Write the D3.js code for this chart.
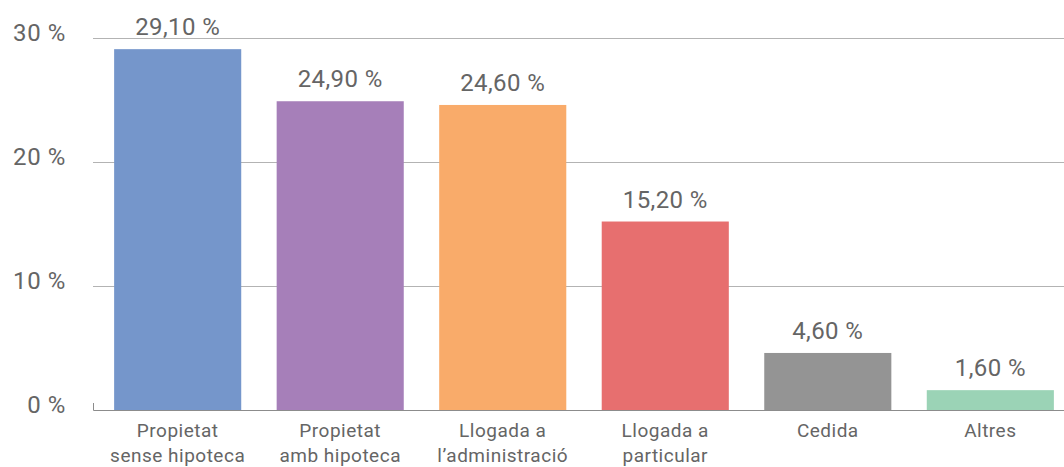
<!DOCTYPE html>
<html>
<head>
<meta charset="utf-8">
<script src="https://cdn.jsdelivr.net/npm/d3@7"></script>
<style>
  html, body { margin: 0; padding: 0; background: #fff; }
  svg { display: block; }
  text { font-family: Roboto, "Noto Sans", sans-serif; font-weight: 400; fill: #656565; }
</style>
</head>
<body>
<svg id="chart"></svg>
<script>
const categories = [
  ['Propietat', 'sense hipoteca'],
  ['Propietat', 'amb hipoteca'],
  ['Llogada a', 'l\u2019administració'],
  ['Llogada a', 'particular'],
  ['Cedida'],
  ['Altres']
]
const values = [29.1, 24.9, 24.6, 15.2, 4.6, 1.6]
const barColors = ['#7596cb', '#a67fb9', '#f9ab6a', '#e76f6f', '#949494', '#9bd3b6']
const yTicks = [0, 10, 20, 30]
const valueLabels = ['29,10 %', '24,90 %', '24,60 %', '15,20 %', '4,60 %', '1,60 %']

const width = 1064, height = 467

const svg = d3.select('#chart')
  .attr('width', width)
  .attr('height', height)

const x = d3.scaleBand()
  .domain(d3.range(values.length))
  .range([93, 1075])
  .paddingInner(0.218)
  .paddingOuter(0.13)

const y = d3.scaleLinear()
  .domain([0, 30])
  .range([410, 38])

// gridlines
svg.append('g')
  .selectAll('line')
  .data(yTicks.filter(d => d > 0))
  .enter().append('line')
  .attr('x1', 93)
  .attr('x2', width)
  .attr('y1', d => y(d) + 0.5)
  .attr('y2', d => y(d) + 0.5)
  .attr('stroke', '#b3b3b3')
  .attr('stroke-width', 1)

// y labels
svg.append('g')
  .selectAll('text')
  .data(yTicks)
  .enter().append('text')
  .attr('x', 66)
  .attr('y', d => y(d) - 5)
  .attr('dy', '0.35em')
  .attr('text-anchor', 'end')
  .style('font-size', '24px')
  .style('letter-spacing', '0.6px')
  .text(d => d + ' %')

// bars
svg.append('g')
  .selectAll('rect')
  .data(values)
  .enter().append('rect')
  .attr('x', (d, i) => x(i))
  .attr('width', x.bandwidth())
  .attr('y', d => y(d))
  .attr('height', d => y(0) - y(d))
  .attr('fill', (d, i) => barColors[i])

// baseline axis
svg.append('path')
  .attr('d', `M93.5,403V410.5H${width}`)
  .attr('fill', 'none')
  .attr('stroke', '#8c8c8c')
  .attr('stroke-width', 1)

// value labels
svg.append('g')
  .selectAll('text')
  .data(values)
  .enter().append('text')
  .attr('x', (d, i) => x(i) + x.bandwidth() / 2)
  .attr('y', d => y(d) - 14)
  .attr('text-anchor', 'middle')
  .style('font-size', '24px')
  .style('letter-spacing', '0.4px')
  .text((d, i) => valueLabels[i])

// category labels
const cat = svg.append('g')
  .selectAll('text')
  .data(categories)
  .enter().append('text')
  .attr('x', (d, i) => x(i) + x.bandwidth() / 2)
  .attr('y', 437)
  .attr('text-anchor', 'middle')
  .style('font-size', '19px')
  .style('letter-spacing', '0.5px')

cat.selectAll('tspan')
  .data(d => d)
  .enter().append('tspan')
  .attr('x', function () { return d3.select(this.parentNode).attr('x') })
  .attr('dy', (d, i) => i === 0 ? 0 : 25)
  .text(d => d)
</script>
</body>
</html>
